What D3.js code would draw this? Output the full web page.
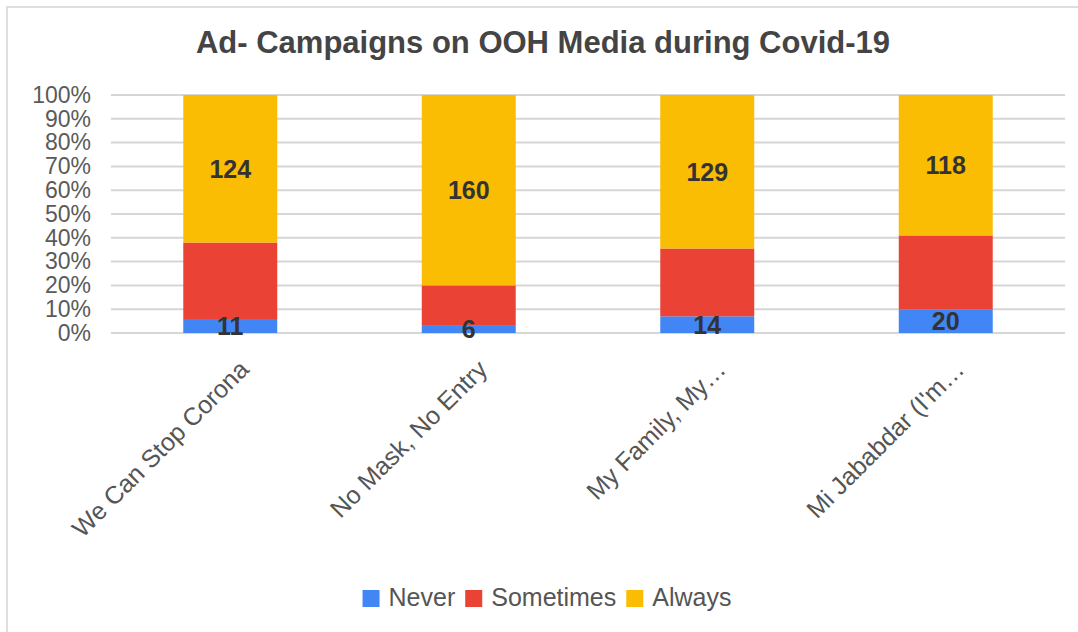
<!DOCTYPE html>
<html>
<head>
<meta charset="utf-8">
<script src="https://cdn.jsdelivr.net/npm/d3@7"></script>
<style>
  html, body { margin: 0; padding: 0; background: #fff; }
  svg { display: block; font-family: "Liberation Sans", Arial, sans-serif; }
</style>
</head>
<body>
<svg id="chart" width="1078" height="632"></svg>
<script>
// Campaign names as shown on the axis (long names are cut with an ellipsis)
const campaigns = ["We Can Stop Corona", "No Mask, No Entry", "My Family, My\u2026", "Mi Jababdar (I'm\u2026"];
// Responses per campaign
const never     = [11, 6, 14, 20];
const sometimes = [65, 34, 57, 62];
const always    = [124, 160, 129, 118];
const seriesNames = ["Never", "Sometimes", "Always"];
const seriesColors = ["#4285F4", "#EA4335", "#FBBC04"];
// Series whose counts are printed on the bars
const labelledSeries = ["Never", "Always"];
const yTickValues = [0, 0.1, 0.2, 0.3, 0.4, 0.5, 0.6, 0.7, 0.8, 0.9, 1.0];

const rows = campaigns.map((c, i) => ({
  campaign: c, Never: never[i], Sometimes: sometimes[i], Always: always[i]
}));

const svg = d3.select("#chart");
const W = 1078, H = 632;
const plot = { left: 111, right: 1065, top: 95, bottom: 333 };

// outer frame
svg.append("rect")
  .attr("x", 7).attr("y", 7)
  .attr("width", W + 10).attr("height", H + 10)
  .attr("fill", "#fff").attr("stroke", "#d4d4d4").attr("stroke-width", 1.5);

// title
svg.append("text")
  .attr("x", 543).attr("y", 53)
  .attr("text-anchor", "middle")
  .attr("font-size", 31).attr("font-weight", "bold")
  .attr("fill", "#444")
  .text("Ad- Campaigns on OOH Media during Covid-19");

const x = d3.scaleBand()
  .domain(campaigns)
  .range([plot.left, plot.right])
  .paddingInner(0.606)
  .paddingOuter(0.303);

const y = d3.scaleLinear().domain([0, 1]).range([plot.bottom, plot.top]);

const color = d3.scaleOrdinal().domain(seriesNames).range(seriesColors);

// gridlines
svg.append("g")
  .selectAll("line")
  .data(yTickValues)
  .join("line")
  .attr("x1", plot.left).attr("x2", plot.right)
  .attr("y1", d => y(d)).attr("y2", d => y(d))
  .attr("stroke", "#d6d6d6").attr("stroke-width", 2);

// y axis labels
const yAxis = d3.axisLeft(y).tickValues(yTickValues).tickFormat(d3.format(".0%")).tickSize(0).tickPadding(0);
const yg = svg.append("g").attr("transform", `translate(91,0)`).call(yAxis);
yg.select(".domain").remove();
yg.selectAll("text")
  .attr("font-size", 23)
  .attr("font-family", "\"Liberation Sans\", Arial, sans-serif")
  .attr("fill", "#5a5a5a");

// stacked bars, normalised to 100%
const stack = d3.stack().keys(seriesNames).offset(d3.stackOffsetExpand);
const layers = stack(rows);

const layerG = svg.append("g")
  .selectAll("g")
  .data(layers)
  .join("g")
  .attr("fill", d => color(d.key));

layerG.selectAll("rect")
  .data(d => d)
  .join("rect")
  .attr("x", d => x(d.data.campaign))
  .attr("width", x.bandwidth())
  .attr("y", d => y(d[1]))
  .attr("height", d => y(d[0]) - y(d[1]));

// value labels
svg.append("g")
  .selectAll("g")
  .data(layers.filter(l => labelledSeries.includes(l.key)))
  .join("g")
  .selectAll("text")
  .data(l => l.map(d => ({ d, key: l.key })))
  .join("text")
  .attr("x", o => x(o.d.data.campaign) + x.bandwidth() / 2)
  .attr("y", o => (y(o.d[0]) + y(o.d[1])) / 2)
  .attr("dy", "0.36em")
  .attr("text-anchor", "middle")
  .attr("font-size", 25).attr("font-weight", "bold")
  .attr("fill", "#333")
  .text(o => o.d.data[o.key]);

// x axis labels, rotated
svg.append("g")
  .selectAll("text")
  .data(campaigns)
  .join("text")
  .attr("transform", c => `translate(${x(c) + x.bandwidth() / 2 + 20},371) rotate(-45)`)
  .attr("text-anchor", "end")
  .attr("font-size", 25)
  .attr("fill", "#555")
  .text(c => c);

// legend
const legend = svg.append("g");
const items = legend.selectAll("g").data(seriesNames).join("g");
items.append("rect")
  .attr("width", 17).attr("height", 17)
  .attr("y", -16)
  .attr("fill", d => color(d));
items.append("text")
  .attr("x", 26).attr("y", 0)
  .attr("font-size", 25)
  .attr("fill", "#555")
  .text(d => d);
let cursor = 0;
items.each(function () {
  const g = d3.select(this);
  g.attr("transform", `translate(${cursor},0)`);
  const tw = g.select("text").node().getComputedTextLength();
  cursor += 26 + tw + 10;
});
const legendWidth = cursor - 10;
legend.attr("transform", `translate(${547 - legendWidth / 2},606)`);
</script>
</body>
</html>
